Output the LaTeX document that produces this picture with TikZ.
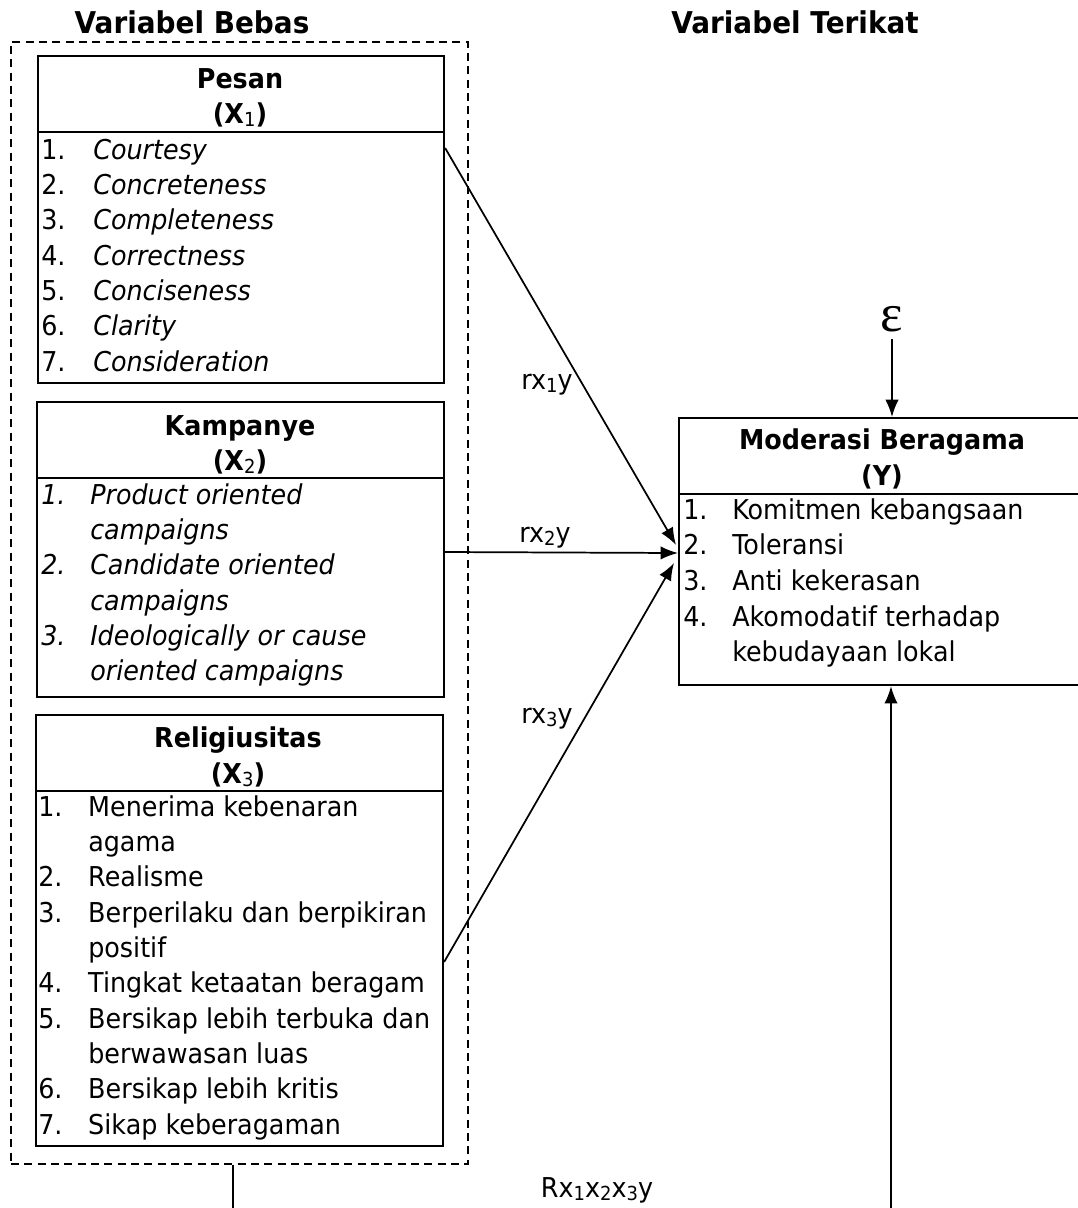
\documentclass[tikz,border=0pt]{standalone}
\usepackage{fontspec}
\setmainfont{DejaVu Sans}[FakeStretch=0.93]
\newfontfamily\epsfont{Liberation Serif}
\usetikzlibrary{arrows.meta,calc}
\newcommand\sbs[1]{\raisebox{-0.14em}{\mdseries\fontsize{14.5}{14.5}\selectfont #1}}
\begin{document}
\begin{tikzpicture}[x=0.75pt,y=-0.75pt,
  box/.style={draw, line width=1.6pt, inner sep=0pt, anchor=north west},
  divider/.style={line width=1.6pt},
  grp/.style={draw, dash pattern=on 6pt off 4pt, line width=1.3pt, inner sep=0pt, anchor=north west},
  head/.style={inner sep=0pt, font=\fontsize{20.5}{26.5}\selectfont\bfseries, anchor=base},
  title/.style={inner sep=0pt, font=\fontsize{22.5}{25}\selectfont\bfseries, anchor=base},
  lst/.style={inner sep=0pt, font=\fontsize{20.5}{26.5}\selectfont, anchor=base west},
  lbl/.style={inner sep=0pt, font=\fontsize{20.5}{26.5}\selectfont, anchor=base},
  arr/.style={line width=1.3pt, -{Latex[length=13pt,width=10pt]}},
  plain/.style={line width=1.3pt}
]
\useasboundingbox (0,0) rectangle (1078,1208);
\clip (0,0) rectangle (1078,1208);

% titles
\node[title] (tBebas) at (192,33) {Variabel Bebas};
\node[title] (tTerikat) at (795,33) {Variabel Terikat};

% dashed group
\node[grp, minimum width=457*0.75pt, minimum height=1122*0.75pt] (grp) at (10,41) {};

% X1 box
\node[box, minimum width=406*0.75pt, minimum height=327*0.75pt] (X1) at (37,55) {};
\draw[divider] ($(X1.north west)+(0,77)$) -- ($(X1.north east)+(0,77)$);
\node[head] (X1a) at (240,88) {Pesan};
\node[head] (X1b) at (240,123) {(X\sbs{1})};
\node[lst] (X1l) at (41,159) {\begin{tabular}[t]{@{}p{39pt}@{}l@{}}
1.&\textit{Courtesy}\\
2.&\textit{Concreteness}\\
3.&\textit{Completeness}\\
4.&\textit{Correctness}\\
5.&\textit{Conciseness}\\
6.&\textit{Clarity}\\
7.&\textit{Consideration}
\end{tabular}};

% X2 box
\node[box, minimum width=407*0.75pt, minimum height=295*0.75pt] (X2) at (36,401) {};
\draw[divider] ($(X2.north west)+(0,77)$) -- ($(X2.north east)+(0,77)$);
\node[head] (X2a) at (240,435) {Kampanye};
\node[head] (X2b) at (240,470) {(X\sbs{2})};
\node[lst] (X2l) at (41,504) {\itshape\begin{tabular}[t]{@{}p{36.75pt}@{}l@{}}
1.&Product oriented\\
&campaigns\\
2.&Candidate oriented\\
&campaigns\\
3.&Ideologically or cause\\
&oriented campaigns
\end{tabular}};

% X3 box
\node[box, minimum width=407*0.75pt, minimum height=431*0.75pt] (X3) at (35,714) {};
\draw[divider] ($(X3.north west)+(0,77)$) -- ($(X3.north east)+(0,77)$);
\node[head] (X3a) at (238,747) {Religiusitas};
\node[head] (X3b) at (238,783) {(X\sbs{3})};
\node[lst] (X3l) at (38,816) {\begin{tabular}[t]{@{}p{37.5pt}@{}l@{}}
1.&Menerima kebenaran\\
&agama\\
2.&Realisme\\
3.&Berperilaku dan berpikiran\\
&positif\\
4.&Tingkat ketaatan beragam\\
5.&Bersikap lebih terbuka dan\\
&berwawasan luas\\
6.&Bersikap lebih kritis\\
7.&Sikap keberagaman
\end{tabular}};

% Y box
\node[box, minimum width=432*0.75pt, minimum height=267*0.75pt] (Y) at (678,417) {};
\draw[divider] ($(Y.north west)+(0,77)$) -- ($(Y.north east)+(0,77)$);
\node[head] (Ya) at (882,449) {Moderasi Beragama};
\node[head] (Yb) at (882,485) {(Y)};
\node[lst, font=\fontsize{20.5}{26.8}\selectfont] (Yl) at (683,519) {\begin{tabular}[t]{@{}p{36.75pt}@{}l@{}}
1.&Komitmen kebangsaan\\
2.&Toleransi\\
3.&Anti kekerasan\\
4.&Akomodatif terhadap\\
&kebudayaan lokal
\end{tabular}};

% epsilon
\node[inner sep=0pt, font=\epsfont\fontsize{40}{40}\selectfont, anchor=base] (eps) at (892,331) {ε};
\draw[arr] ($(eps.base)+(0,8)$) -- (eps.base |- Y.north);

% path arrows
\draw[arr] ($(X1.north east)+(0,93)$) -- ($(Y.north west)+(-2,128)$);
\draw[arr] ($(X2.north east)+(0,151)$) -- ($(Y.north west)+(0,136)$);
\draw[arr] ($(X3.north east)+(0,248)$) -- ($(Y.north west)+(-4,146)$);

\node[lbl] (r1) at (547,389) {rx\sbs{1}y};
\node[lbl] (r2) at (545,542) {rx\sbs{2}y};
\node[lbl] (r3) at (547,723) {rx\sbs{3}y};
\node[lbl] (R) at (597,1197) {Rx\sbs{1}x\sbs{2}x\sbs{3}y};

% simultaneous path
\coordinate (botL) at (233,1208);
\coordinate (botR) at (891,1208);
\draw[plain] (botL |- grp.south) -- (botL);
\draw[arr] (botR) -- (botR |- Y.south);
\end{tikzpicture}
\end{document}
